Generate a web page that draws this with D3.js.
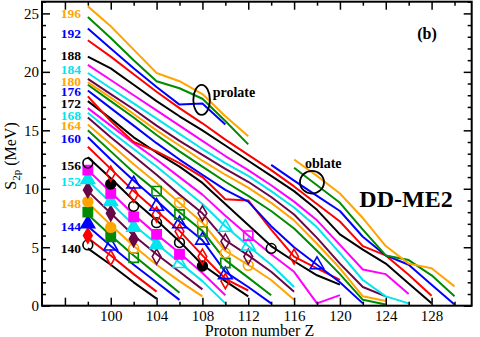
<!DOCTYPE html>
<html>
<head>
<meta charset="utf-8">
<script src="https://cdn.jsdelivr.net/npm/d3@7"></script>
<style>
  body { margin: 0; background: #fff; }
  svg text { font-family: "Liberation Serif", "Times New Roman", serif !important; }
</style>
</head>
<body>
<svg id="chart"></svg>
<script>
// proton numbers of the calculated points (every line starts at Z = 98)
const zGrid = [98, 100, 102, 104, 106, 108, 110, 112, 114, 116, 118, 120, 122, 124, 126, 128, 130];

// DD-ME2 two-proton separation energies (MeV), one array per isotone N
const n140 = [4.9, 3.5, 2.0, 0.6];
const n142 = [5.8, 4.3, 2.7, 1.2];
const n144 = [6.8, 5.1, 3.5, 2.0, 0.5];
const n146 = [7.8, 6.0, 4.3, 2.7, 1.1];
const n148 = [8.8, 6.9, 5.1, 3.5, 2.1, 0.8];
const n150 = [9.8, 7.9, 6.0, 4.4, 2.9, 1.4];
const n152 = [10.7, 8.8, 6.9, 5.3, 3.7, 2.1, 0.2];
const n154 = [11.6, 9.7, 7.8, 6.1, 4.5, 2.8, 0.9];
const n156 = [12.7, 10.9, 9.0, 7.3, 5.5, 3.5, 2.1, 0.8];
const n158 = [13.6, 11.7, 9.8, 8.1, 6.4, 4.3, 2.3, 1.3];
const n160 = [14.4, 12.5, 10.7, 9.0, 7.2, 5.6, 2.9, 1.6, 0.2];
const n162 = [15.0, 13.2, 11.4, 9.8, 8.0, 6.4, 3.9, 2.4, 0.9];
const n164 = [15.5, 13.8, 12.1, 10.5, 8.8, 7.1, 4.7, 3.5, 2.2, 0.5];
const n166 = [16.1, 14.4, 12.8, 11.2, 9.5, 7.9, 5.6, 4.3, 2.9, 1.2];
const n168 = [16.5, 14.9, 13.4, 11.9, 10.3, 8.7, 6.8, 5.1, 3.5, 1.6];
const n170 = [16.9, 15.4, 13.9, 12.5, 11.0, 9.5, 7.7, 6.0, 4.4, 2.9, 0.2, 0.9];
const n172 = [17.5, 16.0, 14.4, 13.1, 11.9, 10.5, 8.7, 6.9, 5.1, 3.8, 2.6, 1.8];
const n174 = [17.9, 15.8, 14.0, 13.2, 12.2, 11.0, 9.1, 9.0, 6.5, 4.2, 3.2, 2.2];
const n176 = [18.4, 16.9, 15.4, 13.9, 12.5, 11.2, 9.9, 8.9, 6.8, 5.0, 3.5, 2.0, 0.2];
const n178 = [18.9, 17.5, 16.1, 14.6, 13.2, 11.9, 10.6, 9.4, 8.1, 6.6, 4.7, 2.7, 0.5, 0.1];
const n180 = [19.1, 17.8, 16.4, 15.0, 13.7, 12.4, 11.2, 10.1, 8.8, 7.3, 5.3, 3.2, 0.8, 0.4];
const n182 = [19.4, 18.1, 16.8, 15.4, 14.1, 12.9, 11.7, 10.6, 9.3, 7.8, 5.8, 3.6, 1.6, 0.8];
const n184 = [19.9, 18.6, 17.3, 16.0, 14.7, 13.4, 12.2, 11.1, 9.8, 8.4, 6.7, 4.5, 2.2, 0.8, 0.2];
const n186 = [20.6, 19.3, 18.0, 16.7, 15.4, 14.1, 12.8, 11.6, 10.3, 8.9, 7.3, 5.2, 3.1, 2.7, 1.0];
const n188 = [21.3, 20.3, 18.9, 17.5, 16.2, 15.0, 13.7, 12.4, 11.1, 9.8, 8.2, 6.1, 4.8, 3.6, 1.9, 0.2];
const n190 = [22.7, 21.3, 19.8, 18.3, 16.9, 15.6, 14.2, 12.9, 11.6, 10.2, 8.7, 7.2, 5.1, 4.3, 2.65, 0.85];
const n192 = [23.7, 22.0, 20.3, 18.7, 17.2, 17.3, 15.5, null, 12.05, 10.7, 9.4, 8.1, 5.9, 4.3, 3.5, 1.8, 0.1];
const n194 = [24.7, 22.9, 21.0, 19.2, 18.6, 17.7, 15.8, 13.8, null, 11.8, 10.3, 8.8, 6.5, 4.3, 3.9, 2.6, 0.8];
const n196 = [25.6, 23.9, 21.9, 19.9, 19.2, 18.1, 16.2, 14.5, null, 12.5, 11.1, 9.6, 7.5, 5.1, 3.6, 3.2, 1.65];

const isotones = [140, 142, 144, 146, 148, 150, 152, 154, 156, 158, 160, 162, 164, 166, 168,
  170, 172, 174, 176, 178, 180, 182, 184, 186, 188, 190, 192, 194, 196];
const theory = [n140, n142, n144, n146, n148, n150, n152, n154, n156, n158, n160, n162, n164, n166, n168,
  n170, n172, n174, n176, n178, n180, n182, n184, n186, n188, n190, n192, n194, n196];

// experimental / systematics points
const expN = [140, 142, 142, 144, 144, 146, 146, 146, 148, 148, 148, 150, 150, 150, 150,
  152, 152, 152, 152, 152, 154, 154, 154, 154, 154, 156, 156, 156, 156, 156, 156,
  158, 158, 158, 158, 158, 158, 160, 160, 160, 160, 160, 162, 162, 162, 162,
  164, 164, 164, 164, 166, 166, 166, 168, 168, 170, 172, 174, 176];
const expZ = [98, 98, 100, 98, 100, 98, 100, 102, 98, 100, 102, 98, 100, 102, 104,
  98, 100, 102, 104, 106, 98, 100, 102, 104, 106, 98, 100, 102, 104, 106, 108,
  100, 102, 104, 106, 108, 110, 102, 104, 106, 108, 110, 104, 106, 108, 110,
  106, 108, 110, 112, 108, 110, 112, 110, 112, 112, 114, 116, 118];
const expS = [5.2, 6.0, 4.1, 7.0, 5.1, 8.0, 5.9, 4.1, 8.9, 6.7, 4.9, 9.9, 7.9, 5.7, 4.2,
  10.8, 8.9, 6.7, 5.2, 3.6, 11.6, 9.6, 7.6, 6.1, 4.4, 12.2, 10.4, 8.5, 7.1, 5.4, 3.4,
  11.3, 9.5, 7.8, 6.35, 4.2, 2.1, 10.4, 8.5, 7.0, 5.6, 2.65, 9.8, 7.8, 6.35, 3.65,
  8.8, 7.1, 4.5, 3.45, 7.9, 5.5, 4.2, 6.7, 5.1, 6.0, 4.9, 4.2, 3.5];
const expFilled = [0, 1, 0, 1, 0, 1, 1, 0, 1, 1, 0, 1, 1, 1, 0,
  1, 1, 1, 1, 0, 1, 1, 1, 1, 1, 0, 1, 0, 0, 0, 1,
  0, 0, 0, 0, 0, 0, 0, 0, 0, 0, 0, 0, 0, 0, 0,
  0, 0, 0, 0, 0, 0, 0, 0, 0, 0, 0, 0, 0];

// isotone labels on the left
const labelN = [140, 144, 148, 152, 156, 160, 164, 168, 172, 176, 180, 184, 188, 192, 196];
const labelS = [4.9, 6.8, 8.8, 10.6, 12.0, 14.3, 15.4, 16.3, 17.3, 18.3, 19.2, 20.2, 21.4, 23.3, 25.0];

const xMajor = [96, 100, 104, 108, 112, 116, 120, 124, 128];
const xMinor = [98, 102, 106, 110, 114, 118, 122, 126, 130];
const xTickLabels = [100, 104, 108, 112, 116, 120, 124, 128];
const yMajor = [0, 5, 10, 15, 20, 25];
const yMinor = d3.range(1, 27).filter(v => v % 5 !== 0);

// colour cycle used by the isotone lines (N = 140, 142, ...)
const palette = ["#000000", "#ff0000", "#0000ff", "#008b00", "#ffa500", "#670748", "#00e5ee", "#ff00ff"];
const shapes = [d3.symbolCircle, d3.symbolDiamond, d3.symbolTriangle, d3.symbolSquare];
const colorOf = n => palette[((n - 140) / 2) % 8];

const svg = d3.select("#chart")
  .attr("width", 480)
  .attr("height", 337);

const x = d3.scaleLinear().domain([94, 131.5]).range([42, 471.7]);
const y = d3.scaleLinear().domain([0, 26]).range([305.7, 1.7]);

// theory lines
const line = d3.line()
  .defined(d => d.s !== null)
  .x(d => x(d.z))
  .y(d => y(d.s));

const series = isotones.map((n, i) => ({
  n: n,
  pts: theory[i].map((s, j) => ({ z: zGrid[j], s: s }))
}));

svg.append("g")
  .selectAll("path")
  .data(series)
  .enter()
  .append("path")
  .attr("d", d => line(d.pts))
  .attr("fill", "none")
  .attr("stroke", d => colorOf(d.n))
  .attr("stroke-width", 2)
  .attr("stroke-linejoin", "round");

// markers
const expData = expN.map((n, i) => ({ n: n, z: expZ[i], s: expS[i], filled: expFilled[i] === 1 }));
const symbolSize = [75, 65, 80, 85];

svg.append("g")
  .selectAll("path")
  .data(expData)
  .enter()
  .append("path")
  .attr("transform", d => `translate(${x(d.z)},${y(d.s)})`)
  .attr("d", d => {
    const k = ((d.n - 140) / 2) % 4;
    return d3.symbol().type(shapes[k]).size(symbolSize[k])();
  })
  .attr("fill", d => d.filled ? colorOf(d.n) : "none")
  .attr("stroke", d => colorOf(d.n))
  .attr("stroke-width", 1.6);

// axes, ticks inward on all four sides
function styleAxis(g) {
  g.select(".domain").remove();
  g.selectAll(".tick line").attr("stroke", "#000").attr("stroke-width", 1.5);
  g.selectAll("text").attr("font-size", 15).attr("fill", "#000");
}

svg.append("g").attr("transform", "translate(0,305.7)")
  .call(d3.axisBottom(x).tickValues(xMajor).tickSize(-8).tickPadding(5)
    .tickFormat(d => xTickLabels.includes(d) ? d : ""))
  .call(styleAxis);
svg.append("g").attr("transform", "translate(0,305.7)")
  .call(d3.axisBottom(x).tickValues(xMinor).tickSize(-4).tickFormat(""))
  .call(styleAxis);
svg.append("g").attr("transform", "translate(0,1.7)")
  .call(d3.axisTop(x).tickValues(xMajor).tickSize(-8).tickFormat(""))
  .call(styleAxis);
svg.append("g").attr("transform", "translate(0,1.7)")
  .call(d3.axisTop(x).tickValues(xMinor).tickSize(-4).tickFormat(""))
  .call(styleAxis);

svg.append("g").attr("transform", "translate(42,0)")
  .call(d3.axisLeft(y).tickValues(yMajor).tickSize(-8).tickPadding(3))
  .call(styleAxis);
svg.append("g").attr("transform", "translate(42,0)")
  .call(d3.axisLeft(y).tickValues(yMinor).tickSize(-4).tickFormat(""))
  .call(styleAxis);
svg.append("g").attr("transform", "translate(471.7,0)")
  .call(d3.axisRight(y).tickValues(yMajor).tickSize(-8).tickFormat(""))
  .call(styleAxis);
svg.append("g").attr("transform", "translate(471.7,0)")
  .call(d3.axisRight(y).tickValues(yMinor).tickSize(-4).tickFormat(""))
  .call(styleAxis);

// frame
svg.append("rect")
  .attr("x", x(94)).attr("y", y(26))
  .attr("width", x(131.5) - x(94))
  .attr("height", y(0) - y(26))
  .attr("fill", "none")
  .attr("stroke", "#000")
  .attr("stroke-width", 2);

// isotone labels
svg.append("g")
  .selectAll("text")
  .data(labelN.map((n, i) => ({ n: n, s: labelS[i] })))
  .enter()
  .append("text")
  .attr("x", x(97.4))
  .attr("y", d => y(d.s))
  .attr("dy", "0.35em")
  .attr("text-anchor", "end")
  .attr("font-size", 13.5)
  .attr("font-weight", "bold")
  .attr("fill", d => colorOf(d.n))
  .text(d => d.n);

// prolate / oblate annotations
svg.append("ellipse")
  .attr("cx", x(107.93)).attr("cy", y(17.6))
  .attr("rx", 8.3).attr("ry", 15)
  .attr("fill", "none").attr("stroke", "#000").attr("stroke-width", 1.8);
svg.append("text")
  .attr("x", x(108.9)).attr("y", y(18.3)).attr("dy", "0.35em")
  .attr("font-size", 14).attr("font-weight", "bold")
  .text("prolate");

svg.append("ellipse")
  .attr("cx", x(117.56)).attr("cy", y(10.56))
  .attr("rx", 12).attr("ry", 11.3)
  .attr("fill", "none").attr("stroke", "#000").attr("stroke-width", 1.8);
svg.append("text")
  .attr("x", x(116.95)).attr("y", y(12.2)).attr("dy", "0.35em")
  .attr("font-size", 14).attr("font-weight", "bold")
  .text("oblate");

svg.append("text")
  .attr("x", 406).attr("y", 206.5)
  .attr("text-anchor", "middle")
  .attr("font-size", 24).attr("font-weight", "bold")
  .text("DD-ME2");

svg.append("text")
  .attr("x", 427).attr("y", 38.5)
  .attr("text-anchor", "middle")
  .attr("font-size", 16).attr("font-weight", "bold")
  .text("(b)");

// axis titles
svg.append("text")
  .attr("x", 259.5).attr("y", 335.5)
  .attr("text-anchor", "middle")
  .attr("font-size", 16)
  .text("Proton number Z");

const yTitle = svg.append("text")
  .attr("transform", "translate(16,156) rotate(-90)")
  .attr("text-anchor", "middle")
  .attr("font-size", 16);
yTitle.append("tspan").text("S");
yTitle.append("tspan").attr("dy", 4).attr("font-size", 11).text("2p");
yTitle.append("tspan").attr("dy", -4).text(" (MeV)");
</script>
</body>
</html>
